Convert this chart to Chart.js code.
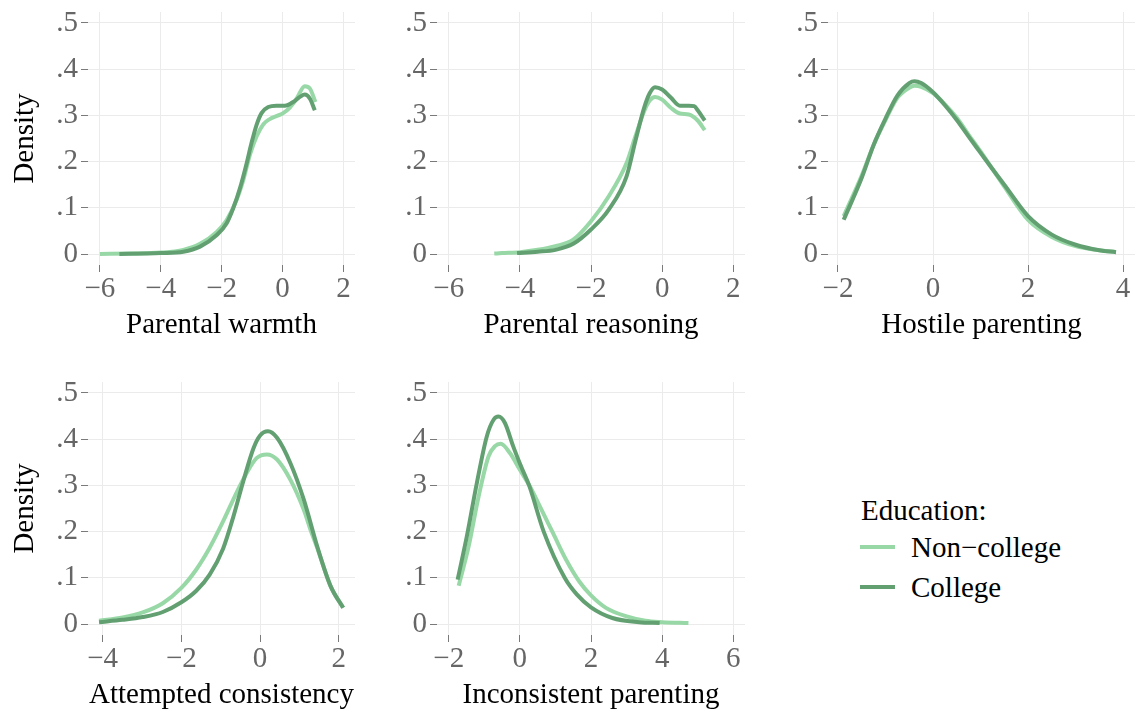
<!DOCTYPE html>
<html>
<head>
<meta charset="utf-8">
<title>Parenting densities by education</title>
<script src="https://cdn.jsdelivr.net/npm/chart.js@4.4.1/dist/chart.umd.min.js"></script>
<style>
  body { margin: 0; background: #fff; }
  #wrap { position: relative; width: 1135px; height: 713px; overflow: hidden; font-family: "Liberation Serif", "DejaVu Serif", serif; }
  #wrap canvas { position: absolute; }
  #legend { position: absolute; left: 0; top: 0; color: #000; font-size: 29px; }
  #legend .item { position: absolute; white-space: nowrap; line-height: 40px; height: 40px; }
  #legend .swatch { position: absolute; height: 4px; width: 35px; }
</style>
</head>
<body>
<div id="wrap">
  <div id="legend"></div>
</div>
<script>
// ---- data ----
const seriesNames = ['Non\u2212college', 'College'];
const legendTitle = 'Education:';

const yTickValues = [0, 0.1, 0.2, 0.3, 0.4, 0.5];
const yTickLabels = ['0', '.1', '.2', '.3', '.4', '.5'];

const warmthTicks = [-6, -4, -2, 0, 2];
const warmthTickLabels = ['\u22126', '\u22124', '\u22122', '0', '2'];
const warmthNonCollegeX = [-6, -5, -4, -3.26, -2.71, -2.16, -1.84, -1.51, -1.29, -1.07, -0.85, -0.63, -0.42, -0.14, 0.02, 0.24, 0.46, 0.73, 0.9, 1.08];
const warmthNonCollegeY = [0, 0.001, 0.003, 0.009, 0.022, 0.048, 0.073, 0.117, 0.16, 0.215, 0.255, 0.281, 0.292, 0.3, 0.305, 0.317, 0.336, 0.363, 0.358, 0.329];
const warmthCollegeX = [-5.36, -4.5, -4, -3.26, -2.71, -2.16, -1.84, -1.62, -1.4, -1.18, -1.02, -0.85, -0.69, -0.47, -0.2, 0.08, 0.35, 0.57, 0.73, 0.9, 1.06];
const warmthCollegeY = [0, 0.001, 0.002, 0.005, 0.016, 0.041, 0.066, 0.099, 0.142, 0.196, 0.24, 0.28, 0.305, 0.318, 0.321, 0.321, 0.329, 0.34, 0.345, 0.336, 0.311];

const reasoningTicks = [-6, -4, -2, 0, 2];
const reasoningTickLabels = ['\u22126', '\u22124', '\u22122', '0', '2'];
const reasoningNonCollegeX = [-4.72, -4.5, -4, -3.5, -3, -2.5, -2, -1.5, -1, -0.75, -0.5, -0.35, -0.2, 0, 0.25, 0.5, 0.75, 1.0, 1.2];
const reasoningNonCollegeY = [0.001, 0.002, 0.004, 0.009, 0.017, 0.031, 0.071, 0.125, 0.197, 0.255, 0.31, 0.332, 0.34, 0.334, 0.316, 0.304, 0.302, 0.289, 0.268];
const reasoningCollegeX = [-4.08, -3.5, -3, -2.5, -2, -1.5, -1, -0.75, -0.5, -0.35, -0.2, 0, 0.25, 0.5, 0.75, 0.9, 1.0, 1.2];
const reasoningCollegeY = [0.002, 0.005, 0.009, 0.022, 0.053, 0.096, 0.168, 0.245, 0.318, 0.348, 0.361, 0.356, 0.338, 0.321, 0.321, 0.32, 0.311, 0.289];

const hostileTicks = [-2, 0, 2, 4];
const hostileTickLabels = ['\u22122', '0', '2', '4'];
const hostileX = [-1.88, -1.5, -1.25, -1, -0.75, -0.5, -0.39, -0.25, 0, 0.25, 0.5, 0.75, 1, 1.25, 1.5, 2, 2.5, 3, 3.5, 3.85];
const hostileNonCollegeY = [0.082, 0.17, 0.236, 0.29, 0.338, 0.36, 0.364, 0.362, 0.348, 0.324, 0.295, 0.258, 0.222, 0.184, 0.146, 0.074, 0.037, 0.017, 0.008, 0.004];
const hostileCollegeY = [0.074, 0.165, 0.236, 0.293, 0.343, 0.37, 0.374, 0.37, 0.35, 0.322, 0.29, 0.254, 0.219, 0.184, 0.15, 0.082, 0.042, 0.02, 0.008, 0.004];

const attemptedTicks = [-4, -2, 0, 2];
const attemptedTickLabels = ['\u22124', '\u22122', '0', '2'];
const attemptedNonCollegeX = [-4.09, -3.49, -2.98, -2.47, -2.0, -1.62, -1.28, -0.94, -0.6, -0.34, -0.09, 0.17, 0.43, 0.77, 1.11, 1.28, 1.45, 1.79, 2.11];
const attemptedNonCollegeY = [0.007, 0.014, 0.025, 0.045, 0.078, 0.118, 0.165, 0.222, 0.284, 0.327, 0.359, 0.367, 0.356, 0.312, 0.247, 0.204, 0.165, 0.082, 0.035];
const attemptedCollegeX = [-4.09, -3.49, -2.98, -2.47, -2.0, -1.62, -1.28, -0.94, -0.68, -0.43, -0.17, 0, 0.2, 0.43, 0.77, 1.11, 1.45, 1.79, 2.11];
const attemptedCollegeY = [0.004, 0.009, 0.015, 0.026, 0.047, 0.072, 0.107, 0.163, 0.232, 0.308, 0.38, 0.408, 0.417, 0.403, 0.348, 0.269, 0.168, 0.082, 0.035];

const inconsistentTicks = [-2, 0, 2, 4, 6];
const inconsistentTickLabels = ['\u22122', '0', '2', '4', '6'];
const inconsistentNonCollegeX = [-1.72, -1.44, -1.16, -0.88, -0.7, -0.54, -0.28, 0, 0.28, 0.56, 0.93, 1.3, 1.67, 2.0, 2.42, 2.98, 3.53, 4.0, 4.74];
const inconsistentNonCollegeY = [0.083, 0.168, 0.276, 0.363, 0.385, 0.39, 0.37, 0.334, 0.298, 0.255, 0.197, 0.139, 0.092, 0.062, 0.035, 0.017, 0.007, 0.004, 0.002];
const inconsistentCollegeX = [-1.75, -1.49, -1.21, -0.93, -0.74, -0.6, -0.42, -0.19, 0.05, 0.26, 0.67, 1.26, 1.6, 2.0, 2.6, 3.35, 3.93];
const inconsistentCollegeY = [0.096, 0.19, 0.305, 0.406, 0.442, 0.449, 0.435, 0.385, 0.338, 0.3, 0.2, 0.1, 0.064, 0.036, 0.013, 0.004, 0.002];

// ---- styling ----
const FONT = '"Liberation Serif", "DejaVu Serif", serif';
const NON_COLLEGE_COLOR = '#98d8a6';
const COLLEGE_COLOR = '#62a072';
const GRID_COLOR = '#ebebeb';
const TICK_COLOR = '#666666';
const TICK_SIZE = 29;
const TITLE_SIZE = 29;

const toPoints = (xs, ys) => xs.map((x, i) => ({ x, y: ys[i] }));

// canvas box + plot area (page pixels) for each panel
const panels = [
  { title: 'Parental warmth', density: true, left: 0, top: 0, width: 360, height: 350,
    plot: { left: 88, top: 12, right: 355, bottom: 265 }, xMin: -6.39, xMax: 2.38,
    ticks: warmthTicks, tickLabels: warmthTickLabels, titlePad: 7,
    nonCollege: toPoints(warmthNonCollegeX, warmthNonCollegeY), college: toPoints(warmthCollegeX, warmthCollegeY) },
  { title: 'Parental reasoning', density: false, left: 380, top: 0, width: 370, height: 350,
    plot: { left: 437, top: 12, right: 745, bottom: 265 }, xMin: -6.33, xMax: 2.33,
    ticks: reasoningTicks, tickLabels: reasoningTickLabels, titlePad: 7,
    nonCollege: toPoints(reasoningNonCollegeX, reasoningNonCollegeY), college: toPoints(reasoningCollegeX, reasoningCollegeY) },
  { title: 'Hostile parenting', density: false, left: 760, top: 0, width: 375, height: 350,
    plot: { left: 828, top: 12, right: 1135, bottom: 265 }, xMin: -2.21, xMax: 4.25,
    ticks: hostileTicks, tickLabels: hostileTickLabels, titlePad: 7,
    nonCollege: toPoints(hostileX, hostileNonCollegeY), college: toPoints(hostileX, hostileCollegeY) },
  { title: 'Attempted consistency', density: true, left: 0, top: 370, width: 360, height: 343,
    plot: { left: 88, top: 382, right: 355, bottom: 635 }, xMin: -4.37, xMax: 2.41,
    ticks: attemptedTicks, tickLabels: attemptedTickLabels, titlePad: 0,
    nonCollege: toPoints(attemptedNonCollegeX, attemptedNonCollegeY), college: toPoints(attemptedCollegeX, attemptedCollegeY) },
  { title: 'Inconsistent parenting', density: false, left: 380, top: 370, width: 370, height: 343,
    plot: { left: 437, top: 382, right: 745, bottom: 635 }, xMin: -2.33, xMax: 6.33,
    ticks: inconsistentTicks, tickLabels: inconsistentTickLabels, titlePad: 0,
    nonCollege: toPoints(inconsistentNonCollegeX, inconsistentNonCollegeY), college: toPoints(inconsistentCollegeX, inconsistentCollegeY) }
];

const wrap = document.getElementById('wrap');

panels.forEach((p) => {
  const canvas = document.createElement('canvas');
  canvas.width = p.width;
  canvas.height = p.height;
  canvas.style.left = p.left + 'px';
  canvas.style.top = p.top + 'px';
  canvas.style.width = p.width + 'px';
  canvas.style.height = p.height + 'px';
  wrap.appendChild(canvas);

  const lineStyle = {
    fill: false,
    pointRadius: 0,
    borderWidth: 4,
    cubicInterpolationMode: 'monotone',
    borderCapStyle: 'butt'
  };

  new Chart(canvas.getContext('2d'), {
    type: 'line',
    data: {
      datasets: [
        { ...lineStyle, label: seriesNames[0], data: p.nonCollege, borderColor: NON_COLLEGE_COLOR, order: 1 },
        { ...lineStyle, label: seriesNames[1], data: p.college, borderColor: COLLEGE_COLOR, order: 0 }
      ]
    },
    options: {
      responsive: false,
      animation: false,
      devicePixelRatio: 1,
      layout: { padding: { top: p.plot.top - p.top, right: p.left + p.width - p.plot.right, left: 0, bottom: 0 } },
      plugins: { legend: { display: false }, tooltip: { enabled: false } },
      scales: {
        x: {
          type: 'linear',
          min: p.xMin,
          max: p.xMax,
          afterBuildTicks: (scale) => { scale.ticks = p.ticks.map(v => ({ value: v })); },
          afterFit: (scale) => {
            scale.height = p.top + p.height - p.plot.bottom;
            scale.paddingLeft = 0;
            scale.paddingRight = 0;
          },
          border: { display: false },
          grid: { color: GRID_COLOR, lineWidth: 1, tickColor: '#7a7a7a', tickLength: 7, drawTicks: true },
          ticks: {
            autoSkip: false,
            maxRotation: 0,
            padding: 0,
            color: TICK_COLOR,
            font: { family: FONT, size: TICK_SIZE },
            callback: (value) => p.tickLabels[p.ticks.indexOf(value)]
          },
          title: {
            display: true,
            text: p.title,
            color: '#000',
            font: { family: FONT, size: TITLE_SIZE },
            padding: { top: 0, bottom: p.titlePad }
          }
        },
        y: {
          type: 'linear',
          min: -0.0238,
          max: 0.5238,
          afterBuildTicks: (scale) => { scale.ticks = yTickValues.map(v => ({ value: v })); },
          afterFit: (scale) => {
            scale.width = p.plot.left - p.left;
            scale.paddingTop = 0;
            scale.paddingBottom = 0;
          },
          border: { display: false },
          grid: { color: GRID_COLOR, lineWidth: 1, tickColor: '#7a7a7a', tickLength: 7, drawTicks: true },
          ticks: {
            padding: 3,
            color: TICK_COLOR,
            font: { family: FONT, size: TICK_SIZE },
            callback: (value) => yTickLabels[yTickValues.indexOf(value)]
          },
          title: {
            display: p.density,
            text: 'Density',
            color: '#000',
            font: { family: FONT, size: TITLE_SIZE },
            padding: { top: 8, bottom: 0 }
          }
        }
      }
    }
  });
});

// legend in the empty sixth slot
const legend = document.getElementById('legend');
const addItem = (text, left, top) => {
  const el = document.createElement('div');
  el.className = 'item';
  el.textContent = text;
  el.style.left = left + 'px';
  el.style.top = top + 'px';
  legend.appendChild(el);
};
addItem(legendTitle, 861, 490);
[NON_COLLEGE_COLOR, COLLEGE_COLOR].forEach((color, i) => {
  const rowCenter = 547 + i * 40;
  const sw = document.createElement('div');
  sw.className = 'swatch';
  sw.style.background = color;
  sw.style.left = '860px';
  sw.style.top = (rowCenter - 2) + 'px';
  legend.appendChild(sw);
  addItem(seriesNames[i], 911, rowCenter - 20);
});
</script>
</body>
</html>
